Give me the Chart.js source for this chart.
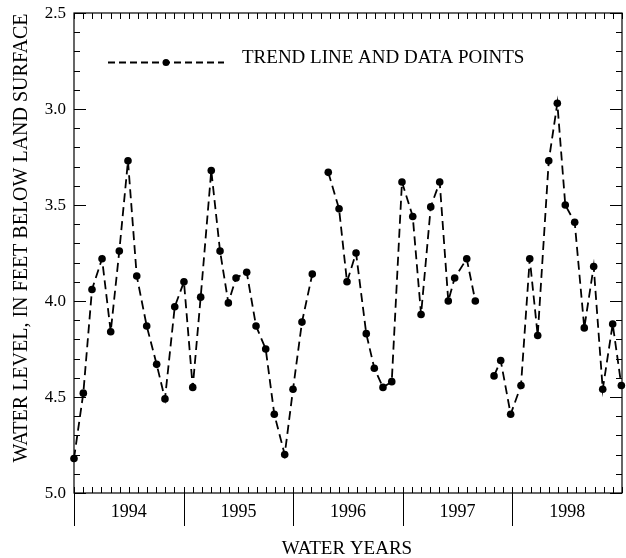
<!DOCTYPE html>
<html>
<head>
<meta charset="utf-8">
<script src="https://cdn.jsdelivr.net/npm/chart.js@4.4.1/dist/chart.umd.min.js"></script>
<style>
  html, body { margin: 0; padding: 0; background: #fff; }
  #wrap { width: 626px; height: 558px; position: relative; }
</style>
</head>
<body>
<div id="wrap"><canvas id="c" width="626" height="558"></canvas></div>
<script>
// Months since start of water year 1994 (Oct 1, 1993), null value = gap in record
const monthOffsets = [
  0.0, 1.02, 1.97, 3.07, 4.02, 4.96, 5.91, 6.87, 7.96, 9.05, 9.96, 11.03,
  12.04, 13.0, 13.87, 15.03, 15.99, 16.9, 17.74, 18.91, 19.93, 20.99, 21.93, 23.07,
  23.98, 24.96, 26.09, 27.0, 27.84, 29.02, 29.89, 30.88, 32.0, 32.88, 33.83, 34.79,
  35.91, 37.09, 38.0, 39.06, 40.04, 40.98, 41.68, 43.0, 43.94, 45.0,
  45.99, 46.72, 47.81, 48.94, 49.9, 50.77, 51.98, 52.92, 53.79, 54.82, 55.87, 56.9,
  57.89, 58.98, 59.93
];
const waterLevels = [
  4.82, 4.48, 3.94, 3.78, 4.16, 3.74, 3.27, 3.87, 4.13, 4.33, 4.51, 4.03,
  3.90, 4.45, 3.98, 3.32, 3.74, 4.01, 3.88, 3.85, 4.13, 4.25, 4.59, 4.80,
  4.46, 4.11, 3.86, null, 3.33, 3.52, 3.90, 3.75, 4.17, 4.35, 4.45, 4.42,
  3.38, 3.56, 4.07, 3.51, 3.38, 4.00, 3.88, 3.78, 4.00, null,
  4.39, 4.31, 4.59, 4.44, 3.78, 4.18, 3.27, 2.97, 3.50, 3.59, 4.14, 3.82,
  4.46, 4.12, 4.44
];
const waterYears = ['1994', '1995', '1996', '1997', '1998'];
const yTickLabels = ['2.5', '3.0', '3.5', '4.0', '4.5', '5.0'];
const yMin = 2.5, yMax = 5.0, monthsTotal = 60;

const SERIF = '"Liberation Serif", "Times New Roman", serif';

const axesPlugin = {
  id: 'axesPlugin',
  afterDatasetsDraw(chart) {
    const ctx = chart.ctx;
    const xs = chart.scales.x, ys = chart.scales.y;
    const L = xs.getPixelForValue(0), R = xs.getPixelForValue(monthsTotal);
    const T = ys.getPixelForValue(yMin), B = ys.getPixelForValue(yMax);
    ctx.save();
    ctx.strokeStyle = '#000';
    ctx.lineWidth = 1.2;
    ctx.setLineDash([]);
    ctx.strokeRect(L, T, R - L, B - T);
    ctx.lineWidth = 1;
    ctx.beginPath();
    for (let i = 0; i <= 25; i++) {
      const v = yMin + i * 0.1;
      const py = Math.round(ys.getPixelForValue(v)) + 0.5;
      const len = (i % 5 === 0) ? 12 : 6;
      ctx.moveTo(L, py); ctx.lineTo(L + len, py);
      ctx.moveTo(R, py); ctx.lineTo(R - len, py);
    }
    for (let m = 0; m <= monthsTotal; m++) {
      const px = Math.round(xs.getPixelForValue(m)) + 0.5;
      ctx.moveTo(px, T); ctx.lineTo(px, T + 6);
      ctx.moveTo(px, B); ctx.lineTo(px, B - 6);
      if (m % 12 === 0 && m < monthsTotal) {
        ctx.moveTo(px, B); ctx.lineTo(px, B + 33);
      }
    }
    ctx.stroke();
    ctx.fillStyle = '#000';
    ctx.font = '17px ' + SERIF;
    ctx.textAlign = 'right';
    ctx.textBaseline = 'middle';
    yTickLabels.forEach(t => {
      ctx.fillText(t, L - 8, ys.getPixelForValue(parseFloat(t)) + 1);
    });
    ctx.font = '18px ' + SERIF;
    ctx.textAlign = 'center';
    waterYears.forEach((yr, i) => {
      const cx = (xs.getPixelForValue(i * 12) + xs.getPixelForValue(i * 12 + 12)) / 2;
      ctx.fillText(yr, cx, B + 19);
    });
    ctx.font = '19px ' + SERIF;
    ctx.fillText('WATER YEARS', (L + R) / 2 - 1, B + 56);
    ctx.save();
    ctx.translate(22, 238);
    ctx.rotate(-Math.PI / 2);
    ctx.font = '20px ' + SERIF;
    ctx.fillText('WATER LEVEL, IN FEET BELOW LAND SURFACE', 0, 0);
    ctx.restore();
    // legend
    ctx.lineWidth = 1.8;
    ctx.setLineDash([7, 4]);
    ctx.beginPath();
    ctx.moveTo(108, 62.5); ctx.lineTo(224, 62.5);
    ctx.stroke();
    ctx.setLineDash([]);
    ctx.beginPath();
    ctx.arc(166, 62.5, 3.5, 0, Math.PI * 2);
    ctx.fill();
    ctx.font = '19px ' + SERIF;
    ctx.textAlign = 'left';
    ctx.fillText('TREND LINE AND DATA POINTS', 242, 58);
    ctx.restore();
  }
};

new Chart(document.getElementById('c'), {
  type: 'line',
  data: {
    datasets: [{
      data: monthOffsets.map((m, i) => ({ x: m, y: waterLevels[i] })),
      borderColor: '#000',
      backgroundColor: '#000',
      borderWidth: 1.8,
      borderDash: [9, 5],
      pointRadius: 3.8,
      pointBackgroundColor: '#000',
      pointBorderWidth: 0,
      spanGaps: false,
      tension: 0,
      clip: false
    }]
  },
  options: {
    responsive: false,
    animation: false,
    devicePixelRatio: 1,
    layout: { padding: { left: 74, top: 13, right: 4, bottom: 65 } },
    plugins: { legend: { display: false }, tooltip: { enabled: false } },
    scales: {
      x: { type: 'linear', min: 0, max: monthsTotal, display: false },
      y: { type: 'linear', min: yMin, max: yMax, reverse: true, display: false }
    }
  },
  plugins: [axesPlugin]
});
</script>
</body>
</html>
